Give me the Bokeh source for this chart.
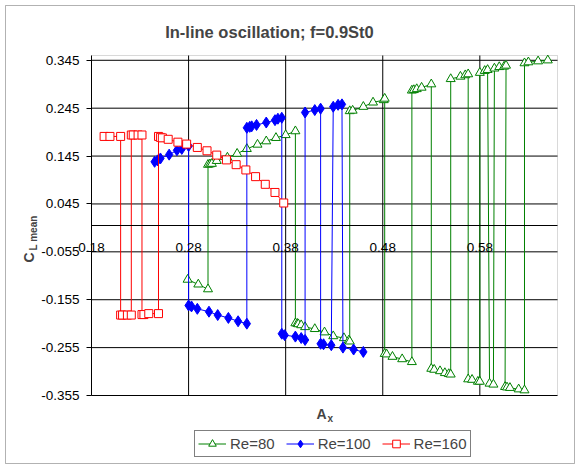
from bokeh.plotting import figure
from bokeh.models import (FixedTicker, Label, Legend, LegendItem, BoxAnnotation,
                          PrintfTickFormatter)
from bokeh.embed import file_html
from bokeh.resources import INLINE

# Mean lift coefficient vs. oscillation amplitude, in drawing order
# (the curves jump between the upper and lower branches).
re80_x = [0.279, 0.290, 0.300,
          0.300, 0.302, 0.304, 0.309, 0.320, 0.330, 0.340, 0.351, 0.360, 0.370, 0.380, 0.390,
          0.390, 0.392, 0.393, 0.396, 0.400, 0.410, 0.420, 0.429, 0.440, 0.445, 0.446,
          0.446, 0.449, 0.460, 0.470, 0.481, 0.482,
          0.482, 0.484, 0.490, 0.500, 0.510,
          0.510, 0.512, 0.515, 0.520, 0.530,
          0.530, 0.533, 0.539, 0.544, 0.548, 0.550,
          0.550, 0.560, 0.565, 0.568,
          0.568, 0.572, 0.578, 0.580,
          0.580, 0.585, 0.588,
          0.590, 0.594,
          0.595, 0.600, 0.605, 0.607,
          0.606, 0.608, 0.611, 0.620, 0.626,
          0.626, 0.630, 0.640, 0.650]
re80_y = [-0.113, -0.123, -0.133,
          0.127, 0.128, 0.129, 0.135, 0.142, 0.150, 0.160, 0.169, 0.176, 0.183, 0.189, 0.197,
          -0.204, -0.205, -0.206, -0.208, -0.212, -0.216, -0.223, -0.231, -0.235, -0.240, -0.242,
          0.239, 0.240, 0.248, 0.257, 0.262, 0.265,
          -0.268, -0.269, -0.274, -0.279, -0.285,
          0.282, 0.283, 0.285, 0.288, 0.295,
          -0.299, -0.301, -0.304, -0.308, -0.310, -0.311,
          0.306, 0.311, 0.314, 0.316,
          -0.321, -0.322, -0.326, -0.326,
          0.319, 0.323, 0.325,
          -0.330, -0.332,
          0.328, 0.331, 0.332, 0.334,
          -0.337, -0.338, -0.339, -0.342, -0.344,
          0.339, 0.341, 0.343, 0.345]

re100_x = [0.245, 0.248, 0.251, 0.260, 0.268, 0.273, 0.280,
           0.280, 0.283, 0.289, 0.301, 0.310, 0.321, 0.331, 0.340,
           0.340, 0.343, 0.345, 0.350, 0.360, 0.369, 0.372, 0.376,
           0.376, 0.379, 0.390, 0.396, 0.400,
           0.400, 0.410, 0.416,
           0.416, 0.419, 0.427,
           0.429, 0.434, 0.438,
           0.439, 0.450, 0.460]
re100_y = [0.133, 0.136, 0.140, 0.148, 0.157, 0.160, 0.166,
           -0.167, -0.169, -0.174, -0.180, -0.187, -0.193, -0.200, -0.205,
           0.204, 0.206, 0.207, 0.210, 0.215, 0.220, 0.223, 0.225,
           -0.226, -0.229, -0.232, -0.235, -0.239,
           0.236, 0.241, 0.244,
           -0.247, -0.248, -0.250,
           0.248, 0.252, 0.253,
           -0.255, -0.259, -0.264]

re160_x = [0.193, 0.199, 0.210,
           0.210, 0.212, 0.217, 0.221,
           0.221, 0.223, 0.228, 0.232,
           0.232, 0.234, 0.239, 0.249,
           0.249, 0.251, 0.253, 0.259, 0.269, 0.278, 0.289, 0.299, 0.309, 0.319,
           0.329, 0.339, 0.349, 0.359, 0.369, 0.378]
re160_y = [0.186, 0.186, 0.186,
           -0.187, -0.187, -0.187, -0.187,
           0.189, 0.189, 0.189, 0.189,
           -0.186, -0.186, -0.184, -0.184,
           0.186, 0.184, 0.183, 0.180, 0.174, 0.170, 0.163, 0.156, 0.147, 0.137,
           0.127, 0.116, 0.102, 0.086, 0.069, 0.047]

x_ticks = [0.18, 0.28, 0.38, 0.48, 0.58]
y_ticks = [-0.355, -0.255, -0.155, -0.055, 0.045, 0.145, 0.245, 0.345]
x_min, x_max = 0.18, 0.66
y_min, y_max = -0.355, 0.355

FONT = "Liberation Sans"
W, H = 579, 468

# The plot area sits inside the canvas at these pixel edges; the ranges are
# widened so that the axes, titles and legend live inside the drawing frame.
AREA_L, AREA_R, AREA_T, AREA_B = 91, 557, 55, 395
SX = (AREA_R - AREA_L) / (x_max - x_min)
SY = (AREA_B - AREA_T) / (y_max - y_min)
X0 = x_min - AREA_L / SX
X1 = X0 + W / SX
Y1 = y_max + AREA_T / SY
Y0 = Y1 - H / SY


def px_x(px):
    return X0 + px / SX


def px_y(py):
    return Y1 - py / SY


p = figure(width=W, height=H, output_backend="svg", toolbar_location=None,
           x_range=(X0, X1), y_range=(Y0, Y1),
           min_border_left=0, min_border_right=0, min_border_top=0, min_border_bottom=0)
p.background_fill_color = "white"
p.border_fill_color = "white"
p.outline_line_color = None
p.xgrid.visible = False
p.ygrid.visible = False

# plot area box
p.add_layout(BoxAnnotation(left=x_min, right=x_max, bottom=y_min, top=y_max,
                           fill_color=None, line_color="#808080", line_width=1,
                           level="underlay"))

# grid lines
p.segment(x0=x_ticks[1:], x1=x_ticks[1:], y0=y_min, y1=y_max,
          line_color="black", line_width=1)
p.segment(x0=x_min, x1=x_max, y0=y_ticks, y1=y_ticks,
          line_color="black", line_width=1)

# axes
p.xaxis.ticker = FixedTicker(ticks=x_ticks)
p.xaxis.formatter = PrintfTickFormatter(format="%.2f")
p.xaxis.fixed_location = 0
p.xaxis.bounds = (x_min, x_max)
p.xaxis.major_tick_out = 0
p.xaxis.major_tick_in = 0
p.xaxis.minor_tick_out = 0
p.xaxis.minor_tick_in = 0
p.xaxis.major_label_standoff = 17
p.xaxis.axis_line_color = "black"
p.xaxis.major_label_text_font = FONT
p.xaxis.major_label_text_font_size = "13.5px"
p.xaxis.major_label_text_color = "black"

p.yaxis.ticker = FixedTicker(ticks=y_ticks)
p.yaxis.formatter = PrintfTickFormatter(format="%.3f")
p.yaxis.fixed_location = x_min
p.yaxis.bounds = (y_min, y_max)
p.yaxis.major_tick_out = 5
p.yaxis.major_tick_in = 0
p.yaxis.minor_tick_out = 0
p.yaxis.minor_tick_in = 0
p.yaxis.major_tick_line_color = "black"
p.yaxis.major_label_standoff = 7
p.yaxis.axis_line_color = "black"
p.yaxis.major_label_text_font = FONT
p.yaxis.major_label_text_font_size = "13.5px"
p.yaxis.major_label_text_color = "black"

# series
g_line = p.line(re80_x, re80_y, line_color="#008000", line_width=1)
g_pts = p.scatter(re80_x, re80_y, marker="triangle", size=9, line_color="#008000",
                  fill_color="white", line_width=1)
b_line = p.line(re100_x, re100_y, line_color="#0000FF", line_width=1)
b_pts = p.scatter(re100_x, re100_y, marker="diamond", size=11, line_color="#0000FF",
                  fill_color="#0000FF")
r_line = p.line(re160_x, re160_y, line_color="#FF0000", line_width=1)
r_pts = p.scatter(re160_x, re160_y, marker="square", size=8, line_color="#FF0000",
                  fill_color="white", line_width=1)

legend = Legend(items=[LegendItem(label="Re=80", renderers=[g_line, g_pts]),
                       LegendItem(label="Re=100", renderers=[b_line, b_pts]),
                       LegendItem(label="Re=160", renderers=[r_line, r_pts])],
                orientation="horizontal", location=(194, H - 457),
                border_line_color="black", border_line_width=1,
                background_fill_color="white", background_fill_alpha=1,
                label_text_font=FONT, label_text_font_size="15px",
                glyph_width=28, glyph_height=19, label_height=19,
                label_standoff=4, spacing=11, padding=3, margin=0)
p.add_layout(legend, "center")

# title and axis titles
p.add_layout(Label(x=px_x(269), y=px_y(31), text="In-line oscillation; f=0.9St0",
                   text_align="center", text_baseline="middle",
                   text_font=FONT, text_font_style="bold", text_font_size="16.5px"))
p.add_layout(Label(x=px_x(321), y=px_y(413), text="A", text_align="center",
                   text_baseline="middle", text_font=FONT, text_font_style="bold",
                   text_font_size="14px"))
p.add_layout(Label(x=px_x(327), y=px_y(418), text="x", text_align="left",
                   text_baseline="middle", text_font=FONT, text_font_style="bold",
                   text_font_size="10px"))
p.add_layout(Label(x=px_x(28), y=px_y(257), text="C", text_align="center",
                   text_baseline="middle", angle=1.5708, text_font=FONT,
                   text_font_style="bold", text_font_size="14px"))
p.add_layout(Label(x=px_x(33), y=px_y(250), text="L mean", text_align="left",
                   text_baseline="middle", angle=1.5708, text_font=FONT,
                   text_font_style="bold", text_font_size="10px"))

# chart area frame
p.add_layout(BoxAnnotation(left=px_x(5), right=px_x(574), top=px_y(5), bottom=px_y(463),
                           fill_color=None, line_color="black", line_width=1))

open("out.html", "w").write(file_html(p, INLINE))
